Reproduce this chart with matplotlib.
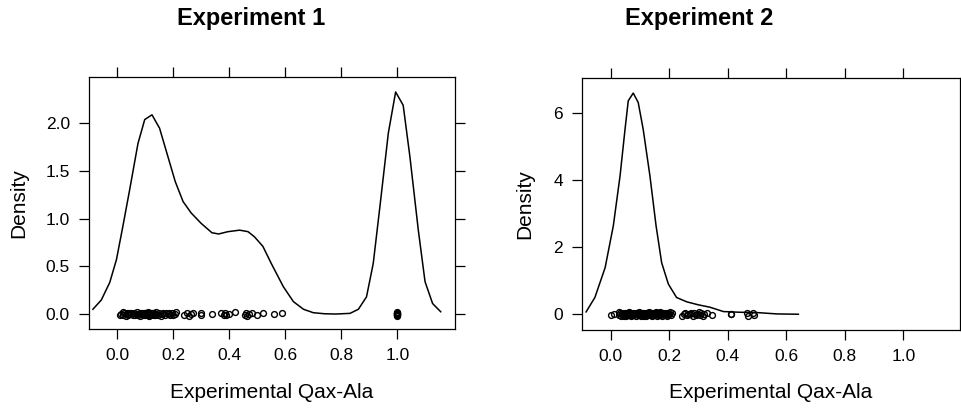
import matplotlib
matplotlib.use('Agg')

import numpy as np
import matplotlib.pyplot as plt

plt.rcParams['font.family'] = ['Liberation Sans', 'DejaVu Sans']

# Density curves (x, density) for each experiment
EXP1_X = [-0.087, -0.057, -0.027, -0.003, 0.020, 0.044, 0.074, 0.098, 0.124, 0.151,
          0.181, 0.207, 0.235, 0.264, 0.300, 0.338, 0.362, 0.395, 0.437, 0.467,
          0.490, 0.520, 0.550, 0.593, 0.629, 0.665, 0.700, 0.740, 0.780, 0.831,
          0.861, 0.890, 0.914, 0.938, 0.968, 0.994, 1.021, 1.045, 1.075, 1.099,
          1.126, 1.155]
EXP1_Y = [0.05, 0.147, 0.33, 0.57, 0.92, 1.30, 1.79, 2.04, 2.09, 1.95,
          1.65, 1.39, 1.18, 1.06, 0.95, 0.853, 0.84, 0.864, 0.88, 0.864,
          0.81, 0.71, 0.53, 0.287, 0.13, 0.05, 0.014, 0.003, 0.0, 0.007,
          0.05, 0.18, 0.53, 1.13, 1.90, 2.33, 2.19, 1.65, 0.88, 0.34,
          0.11, 0.024]

EXP2_X = [-0.084, -0.054, -0.019, 0.009, 0.032, 0.049, 0.060, 0.077, 0.094, 0.111,
          0.134, 0.155, 0.174, 0.197, 0.225, 0.260, 0.300, 0.339, 0.385, 0.440,
          0.500, 0.567, 0.641]
EXP2_Y = [0.07, 0.50, 1.39, 2.64, 4.13, 5.52, 6.37, 6.60, 6.32, 5.52,
          4.13, 2.64, 1.54, 0.90, 0.50, 0.37, 0.28, 0.21, 0.08, 0.06,
          0.05, 0.01, 0.0]

# Observed values (rug points)
EXP1_OBS = [0.010, 0.015, 0.020, 0.022, 0.025, 0.030, 0.033, 0.035, 0.040, 0.042,
            0.045, 0.050, 0.055, 0.060, 0.065, 0.070, 0.072, 0.075, 0.080, 0.082,
            0.085, 0.090, 0.092, 0.095, 0.098, 0.100, 0.100, 0.103, 0.105, 0.108,
            0.110, 0.110, 0.113, 0.115, 0.118, 0.120, 0.120, 0.123, 0.125, 0.128,
            0.130, 0.130, 0.133, 0.135, 0.140, 0.145, 0.150, 0.155, 0.160, 0.165,
            0.170, 0.175, 0.180, 0.185, 0.190, 0.195, 0.200, 0.205, 0.210,
            0.240, 0.250, 0.255, 0.265, 0.270, 0.300, 0.300, 0.340, 0.370, 0.380,
            0.385, 0.390, 0.400, 0.420, 0.455, 0.460, 0.465, 0.470, 0.480, 0.500,
            0.520, 0.560, 0.590,
            1.0, 1.0, 1.0, 1.0, 1.0, 1.0, 1.0, 1.0, 1.0, 1.0, 1.0, 1.0, 1.0, 1.0]

EXP2_OBS = [0.000, 0.010,
            0.028, 0.030, 0.032, 0.035, 0.037, 0.040, 0.042, 0.045, 0.047, 0.050,
            0.052, 0.055, 0.057, 0.060, 0.062, 0.065, 0.067, 0.070, 0.072, 0.075,
            0.077, 0.080, 0.082, 0.085, 0.087, 0.090, 0.092, 0.095, 0.097, 0.100,
            0.102, 0.105, 0.107, 0.110, 0.112, 0.115, 0.117, 0.120, 0.122, 0.125,
            0.127, 0.130, 0.132, 0.135, 0.137, 0.140, 0.142, 0.145, 0.147, 0.150,
            0.152, 0.155, 0.157, 0.160, 0.162, 0.165, 0.167, 0.170, 0.172, 0.175,
            0.177, 0.180, 0.182, 0.185, 0.187, 0.190, 0.192, 0.195, 0.197, 0.200,
            0.203, 0.206, 0.210,
            0.045, 0.055, 0.065, 0.075, 0.085, 0.095, 0.105, 0.115, 0.125, 0.135,
            0.145, 0.155, 0.165, 0.175,
            0.245, 0.250, 0.255, 0.260, 0.265, 0.270, 0.275, 0.280, 0.285, 0.290,
            0.295, 0.300, 0.305, 0.310, 0.315, 0.320, 0.330, 0.345,
            0.410, 0.410, 0.465, 0.470, 0.485, 0.488]

# Fixed vertical jitter pattern (fraction of jitter amplitude)
JITTER = [-0.6, 0.2, 0.9, -0.3, 0.5, -0.9, 0.1, 0.7, -0.5, 0.3, -0.1, 0.8, -0.7, 0.4]

X_TICKS = [0.0, 0.2, 0.4, 0.6, 0.8, 1.0]
EXP1_YTICKS = [0.0, 0.5, 1.0, 1.5, 2.0]
EXP2_YTICKS = [0, 2, 4, 6]

W, H = 962, 408


def style_axes(ax, xlim, ylim, yticks, yfmt):
    ax.set_xlim(*xlim)
    ax.set_ylim(*ylim)
    ax.set_xticks(X_TICKS)
    ax.set_xticklabels([f'{t:.1f}' for t in X_TICKS])
    ax.set_yticks(yticks)
    ax.set_yticklabels([yfmt.format(t) for t in yticks])
    ax.tick_params(direction='out', length=7.5, width=0.9, pad=6,
                   labelsize=12.5, top=True, right=True,
                   labeltop=False, labelright=False)
    for s in ax.spines.values():
        s.set_linewidth(0.9)


def draw_panel(ax, xs, ys, obs, amp):
    ax.plot(xs, ys, color='black', lw=1.1)
    yj = [JITTER[i % len(JITTER)] * amp for i in range(len(obs))]
    ax.plot(obs, yj, linestyle='none', marker='o', markersize=4.2,
            markerfacecolor='none', markeredgecolor='black', markeredgewidth=1.0)


fig = plt.figure(figsize=(W / 100, H / 100), dpi=100)

ax1 = fig.add_axes([88.7 / W, 1 - 329 / H, (455 - 88.7) / W, (329 - 76.7) / H])
draw_panel(ax1, EXP1_X, EXP1_Y, EXP1_OBS, 0.02)
style_axes(ax1, (-0.102, 1.206), (-0.157, 2.49), EXP1_YTICKS, '{:.1f}')

ax2 = fig.add_axes([581.7 / W, 1 - 330 / H, (960 - 581.7) / W, (330 - 78) / H])
draw_panel(ax2, EXP2_X, EXP2_Y, EXP2_OBS, 0.06)
style_axes(ax2, (-0.099, 1.193), (-0.47, 7.05), EXP2_YTICKS, '{:d}')

# Titles and axis labels
fig.text(251 / W, 1 - 25 / H, 'Experiment 1', ha='center', va='baseline',
         fontsize=17, fontweight='bold')
fig.text(699 / W, 1 - 25 / H, 'Experiment 2', ha='center', va='baseline',
         fontsize=17, fontweight='bold')
for cx in (272, 771):
    fig.text(cx / W, 1 - 392 / H, 'Experimental Qax-Ala', ha='center',
             va='center', fontsize=15)
for cx, cy in ((18.5, 203), (525, 204)):
    fig.text(cx / W, 1 - cy / H, 'Density', ha='center', va='center',
             rotation=90, fontsize=15)

fig.savefig('out.png', dpi=100, facecolor='white')
